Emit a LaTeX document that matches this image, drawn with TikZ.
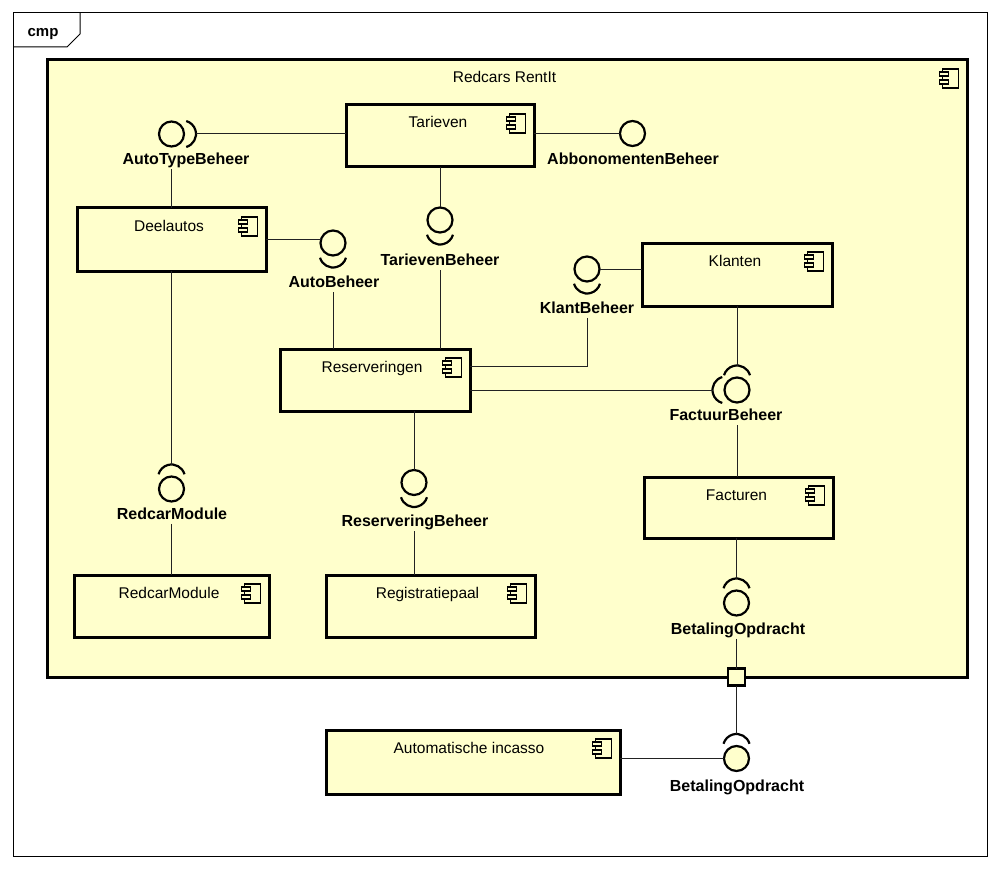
\documentclass[tikz,border=0pt]{standalone}
\usepackage{fontspec}
\setmainfont{Liberation Sans}
\definecolor{compfill}{HTML}{FFFFCC}
\definecolor{wirecol}{HTML}{222222}

% small UML component glyph in the top right corner of a box
\newcommand\compicon[1]{%
  \draw[iconline] (#1.north east) ++(-24.5,9) rectangle ++(16,19);
  \draw[iconline,fill=compfill] (#1.north east) ++(-27.5,12) rectangle ++(9,4);
  \draw[iconline,fill=compfill] (#1.north east) ++(-27.5,20) rectangle ++(9,4);
}
% required-interface socket around a ball: #1 ball, #2 direction, #3 tip coordinate
\newcommand\socket[3]{%
  \draw[sockline] (#1.center) ++(#2:11pt) ++(#2-74:13.5pt)
    arc[start angle=#2-74, end angle=#2+74, radius=13.5pt];
  \path (#1.center) ++(#2:24.5pt) coordinate (#3);
}

\begin{document}
\begin{tikzpicture}[x=1pt,y=-1pt,
  every node/.style={inner sep=0pt, outer sep=0pt},
  comp/.style={draw=black, line width=3pt, fill=compfill, rectangle},
  ball/.style={draw=black, line width=2.2pt, fill=compfill, circle, minimum size=25pt},
  sockline/.style={draw=black, line width=2.2pt},
  wire/.style={draw=wirecol, line width=1pt},
  iconline/.style={draw=black, line width=1.1pt},
  nametext/.style={font=\fontsize{15.5}{18}\selectfont, anchor=base},
  ifacelabel/.style={font=\bfseries\fontsize{16}{19}\selectfont, anchor=base,
    text height=11.5pt, text depth=3pt, inner sep=1.5pt}
]
\useasboundingbox[fill=white] (0,0) rectangle (1001,869);

% diagram frame with its tab
\node[draw=black, line width=1pt, minimum width=974pt, minimum height=843pt] (frame) at (500,434.5) {};
\draw[line width=1pt] (13,47) -- (67,47) -- (80,34) -- (80,13);
\node[font=\bfseries\fontsize{15}{18}\selectfont, anchor=base] (cmp) at (43,36.5) {cmp};

% the enclosing component
\node[comp, minimum width=920pt, minimum height=617pt] (sys) at (507,368.5) {};
\path (sys.north) ++(-2.5,23) node[nametext] (systxt) {Redcars RentIt};
\compicon{sys}
\node[draw=black, line width=2.5pt, fill=compfill, minimum size=17pt] (port) at (736.5,677) {};

% inner components
\node[comp, minimum width=188pt, minimum height=62pt] (tar) at (440,136) {};
\node[comp, minimum width=189pt, minimum height=63pt] (dl) at (171.5,239.5) {};
\node[comp, minimum width=190pt, minimum height=63pt] (kl) at (737,274.5) {};
\node[comp, minimum width=190pt, minimum height=62pt] (res) at (375,380) {};
\node[comp, minimum width=189pt, minimum height=61pt] (fac) at (738.5,507.5) {};
\node[comp, minimum width=209pt, minimum height=62pt] (reg) at (430.5,606) {};
\node[comp, minimum width=195pt, minimum height=62pt] (rmod) at (171.5,606) {};
\node[comp, minimum width=294pt, minimum height=64pt] (ai) at (473,762) {};

\path (tar.north) ++(-2,23) node[nametext] (tartxt) {Tarieven};
\path (dl.north) ++(-2.5,23) node[nametext] (dltxt) {Deelautos};
\path (kl.north) ++(-2,23) node[nametext] (kltxt) {Klanten};
\path (res.north) ++(-3,23) node[nametext] (restxt) {Reserveringen};
\path (fac.north) ++(-2,23) node[nametext] (factxt) {Facturen};
\path (reg.north) ++(-3,23) node[nametext] (regtxt) {Registratiepaal};
\path (rmod.north) ++(-2.5,23) node[nametext] (rmodtxt) {RedcarModule};
\path (ai.north) ++(-4,23) node[nametext] (aitxt) {Automatische incasso};
\foreach \c in {tar,dl,kl,res,fac,reg,rmod,ai} {\compicon{\c}}

% provided interfaces
\node[ball] (atb) at (171.5,134) {};
\node[ball] (abb) at (632.5,133.5) {};
\node[ball] (tb) at (440,220) {};
\node[ball] (ab) at (333,243) {};
\node[ball] (kb) at (587,269) {};
\node[ball] (fb) at (737,390) {};
\node[ball] (rb) at (414,482.5) {};
\node[ball] (rm) at (171.5,489) {};
\node[ball] (bo1) at (736.5,603) {};
\node[ball] (bo2) at (736.5,758.5) {};

% interface names
\node[ifacelabel] (atbl) at (186,165) {AutoTypeBeheer};
\node[ifacelabel] (abbl) at (633,165) {AbbonomentenBeheer};
\node[ifacelabel] (tbl) at (440,265.7) {TarievenBeheer};
\node[ifacelabel] (abl) at (334,287.5) {AutoBeheer};
\node[ifacelabel] (kbl) at (587,313.3) {KlantBeheer};
\node[ifacelabel] (fbl) at (726,420.7) {FactuurBeheer};
\node[ifacelabel] (rbl) at (415,526.7) {ReserveringBeheer};
\node[ifacelabel] (rml) at (172,519.3) {RedcarModule};
\node[ifacelabel] (bo1l) at (738,634.3) {BetalingOpdracht};
\node[ifacelabel] (bo2l) at (737,791) {BetalingOpdracht};

% required-interface sockets
\socket{atb}{0}{atbs}
\socket{tb}{-90}{tbs}
\socket{ab}{-90}{abs}
\socket{kb}{-90}{kbs}
\socket{fb}{90}{fbsu}
\socket{fb}{180}{fbsl}
\socket{rb}{-90}{rbs}
\socket{rm}{90}{rms}
\socket{bo1}{90}{bo1s}
\socket{bo2}{90}{bo2s}

% connectors
\coordinate (kbturn) at (587,366);
\draw[wire] (atbs) -- (atbs -| tar.west);
\draw[wire] (atb |- atbl.south) -- (atb |- dl.north);
\draw[wire] (abb.west) -- (abb.west -| tar.east);
\draw[wire] (tar.south -| tb) -- (tb.north);
\draw[wire] (tb |- tbl.south) -- (tb |- res.north);
\draw[wire] (dl.east) -- (dl.east -| ab.west);
\draw[wire] (ab |- abl.south) -- (ab |- res.north);
\draw[wire] (kb.east) -- (kb.east -| kl.west);
\draw[wire] (kb |- kbl.south) -- (kbturn) -- (kbturn -| res.east);
\draw[wire] (kl.south -| fb) -- (fbsu);
\draw[wire] (fbsl) -- (fbsl -| res.east);
\draw[wire] (fb |- fbl.south) -- (fb |- fac.north);
\draw[wire] (dl.south -| rm) -- (rms);
\draw[wire] (rm |- rml.south) -- (rm |- rmod.north);
\draw[wire] (res.south -| rb) -- (rb.north);
\draw[wire] (rb |- rbl.south) -- (rb |- reg.north);
\draw[wire] (fac.south -| bo1) -- (bo1s);
\draw[wire] (bo1 |- bo1l.south) -- (bo1 |- port.north);
\draw[wire] (port.south) -- (bo2s);
\draw[wire] (bo2.west) -- (bo2.west -| ai.east);
\end{tikzpicture}
\end{document}
